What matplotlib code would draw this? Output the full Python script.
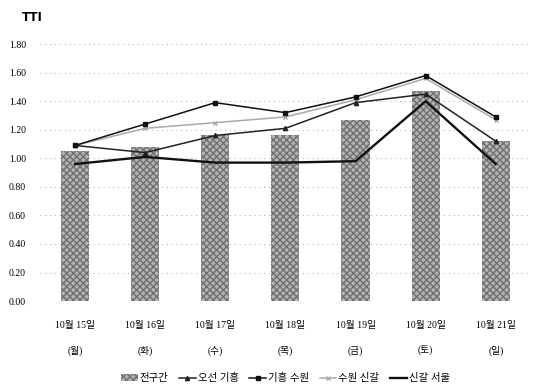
import matplotlib
matplotlib.use('Agg')
import matplotlib.pyplot as plt
import numpy as np

plt.rcParams['font.family'] = ['Liberation Serif', 'Noto Sans CJK KR']

days = ['10월 15일\n(월)', '10월 16일\n(화)', '10월 17일\n(수)', '10월 18일\n(목)',
        '10월 19일\n(금)', '10월 20일\n(토)', '10월 21일\n(일)']
yticks = [0.0, 0.2, 0.4, 0.6, 0.8, 1.0, 1.2, 1.4, 1.6, 1.8]

all_sec = [1.05, 1.08, 1.16, 1.16, 1.27, 1.47, 1.12]
osan_giheung = [1.09, 1.04, 1.16, 1.21, 1.39, 1.45, 1.12]
giheung_suwon = [1.09, 1.24, 1.39, 1.32, 1.43, 1.58, 1.29]
suwon_singal = [1.09, 1.21, 1.25, 1.29, 1.41, 1.56, 1.27]
singal_seoul = [0.96, 1.01, 0.97, 0.97, 0.98, 1.40, 0.96]

fig = plt.figure(figsize=(5.4, 3.87), dpi=100)
ax = fig.add_axes([0.074, 0.222, 0.909, 0.664])

x = np.arange(len(days))
ax.bar(x, all_sec, width=0.4, color='#b4b4b4', hatch='xxxxx', edgecolor='#707070',
       linewidth=0, label='전구간', zorder=2)

ax.plot(x, osan_giheung, color='#222222', lw=1.1, marker='^', ms=3, label='오선 기흥', zorder=4)
ax.plot(x, giheung_suwon, color='#111111', lw=1.1, marker='s', ms=3.5, label='기흥 수원', zorder=4)
ax.plot(x, suwon_singal, color='#aaaaaa', lw=1.1, marker='x', ms=3, label='수원 신갈', zorder=3)
ax.plot(x, singal_seoul, color='#111111', lw=1.7, label='신갈 서울', zorder=4)

ax.set_xlim(-0.5, len(days) - 0.5)
ax.set_ylim(0, 1.8)
ax.set_yticks(yticks)
ax.set_yticklabels(['%.2f' % v for v in yticks], fontsize=7)
ax.set_xticks(x)
ax.set_xticklabels(days, fontsize=7, linespacing=3.0)
ax.tick_params(length=0, pad=10)
ax.tick_params(axis='x', pad=14)
for s in ax.spines.values():
    s.set_visible(False)
ax.grid(axis='y', linestyle=(0, (1, 4)), color='#aaaaaa', lw=0.7)
ax.axhline(0, linestyle=(0, (1, 3)), color='#999999', lw=0.7)

fig.text(0.04, 0.945, 'TTI', fontsize=8.5, fontweight='bold', family='DejaVu Sans')

handles, labels = ax.get_legend_handles_labels()
order = [4, 0, 1, 2, 3]
ax.legend([handles[i] for i in order], [labels[i] for i in order],
          loc='upper center', bbox_to_anchor=(0.5, -0.245), ncol=5, frameon=False,
          fontsize=7.5, handlelength=1.6, handletextpad=0.2, columnspacing=1.0)

fig.savefig('out.png', dpi=100)
